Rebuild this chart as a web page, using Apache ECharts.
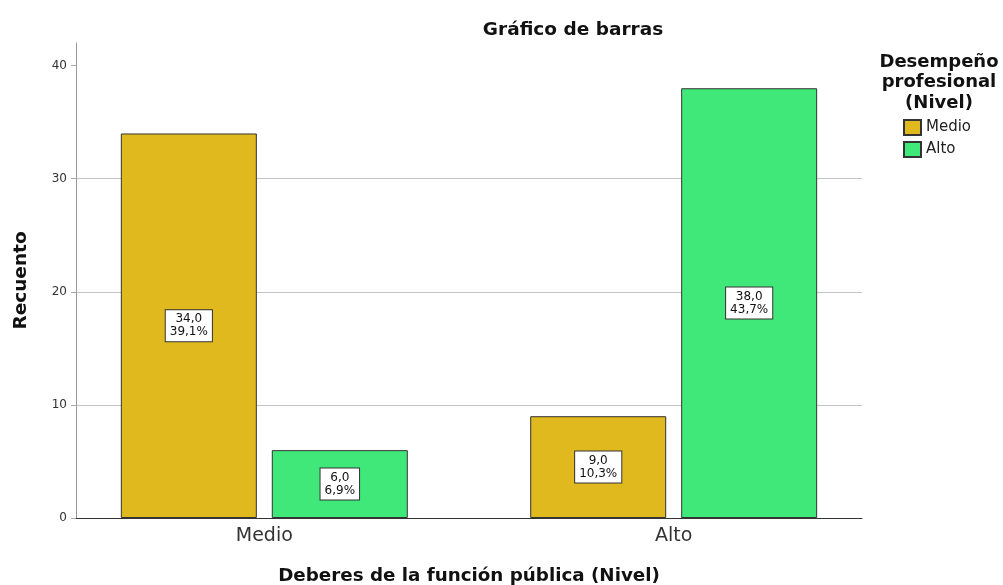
<!DOCTYPE html>
<html>
<head>
<meta charset="utf-8">
<script src="https://cdn.jsdelivr.net/npm/echarts@6/dist/echarts.min.js"></script>
<style>
  html, body { margin: 0; padding: 0; background: #fff; }
  #main { width: 1003px; height: 585px; }
</style>
</head>
<body>
<div id="main"></div>
<script>
var categories = ['Medio', 'Alto'];
var medioCounts = [34, 9];
var altoCounts = [6, 38];
var medioPct = ['39,1%', '10,3%'];
var altoPct = ['6,9%', '43,7%'];
var yTicks = [0, 10, 20, 30, 40];

var FONT = '"DejaVu Sans", Verdana, sans-serif';

function pairs(vals) {
  return vals.map(function (v, i) { return [i, v]; });
}

function boxLabel(pcts) {
  return {
    show: true,
    position: 'inside',
    formatter: function (p) {
      return p.value[1].toFixed(1).replace('.', ',') + '\n' + pcts[p.dataIndex];
    },
    color: '#111',
    fontFamily: FONT,
    fontSize: 12,
    lineHeight: 13,
    backgroundColor: '#fff',
    borderColor: '#333',
    borderWidth: 1,
    padding: [3, 4, 2, 4]
  };
}

var chart = echarts.init(document.getElementById('main'));
chart.setOption({
  animation: false,
  title: [
    {
      text: 'Gráfico de barras',
      left: 568, top: 16, textAlign: 'center',
      textStyle: { fontFamily: FONT, fontSize: 18.5, fontWeight: 'bold', color: '#111' }
    },
    {
      text: 'Desempeño\nprofesional\n(Nivel)',
      left: 934, top: 47, textAlign: 'center',
      textStyle: { fontFamily: FONT, fontSize: 18, fontWeight: 'bold', color: '#111', lineHeight: 20.5, align: 'center' }
    }
  ],
  legend: {
    orient: 'vertical',
    left: 903, top: 119,
    padding: 0,
    itemWidth: 17, itemHeight: 15, itemGap: 5,
    icon: 'rect',
    textStyle: { fontFamily: FONT, fontSize: 15, color: '#222' },
    data: categories
  },
  grid: { left: 76, right: 141, top: 43, bottom: 67, outerBoundsMode: 'none', containLabel: false },
  xAxis: {
    type: 'value',
    min: -0.46, max: 1.46,
    name: 'Deberes de la función pública (Nivel)',
    nameLocation: 'middle',
    nameGap: 49,
    nameTextStyle: { fontFamily: FONT, fontSize: 18.3, fontWeight: 'bold', color: '#111' },
    axisLine: { show: true, onZero: false, lineStyle: { color: '#333', width: 1 } },
    axisTick: { show: false },
    splitLine: { show: false },
    axisLabel: {
      customValues: [0, 1],
      formatter: function (v) { return categories[Math.round(v)]; },
      fontFamily: FONT, fontSize: 19, color: '#333', margin: 9
    }
  },
  yAxis: {
    type: 'value',
    min: 0, max: 42,
    name: 'Recuento',
    nameLocation: 'middle',
    nameGap: 45,
    nameTextStyle: { fontFamily: FONT, fontSize: 18.5, fontWeight: 'bold', color: '#111' },
    axisLine: { show: true, onZero: false, lineStyle: { color: '#999', width: 1 } },
    axisTick: { show: true, length: 5, customValues: yTicks, lineStyle: { color: '#aaa' } },
    axisLabel: { customValues: yTicks, fontFamily: FONT, fontSize: 12, color: '#333', margin: 9 },
    splitLine: { show: true, showMinLine: false, showMaxLine: false, lineStyle: { color: '#c4c4c4', width: 1 } }
  },
  series: [
    {
      name: 'Medio',
      type: 'bar',
      barWidth: 136,
      barGap: '11%',
      data: pairs(medioCounts),
      itemStyle: { color: '#E0B91E', borderColor: '#333', borderWidth: 1 },
      label: boxLabel(medioPct)
    },
    {
      name: 'Alto',
      type: 'bar',
      barWidth: 136,
      barGap: '11%',
      data: pairs(altoCounts),
      itemStyle: { color: '#40E87A', borderColor: '#333', borderWidth: 1 },
      label: boxLabel(altoPct)
    }
  ]
});
</script>
</body>
</html>
